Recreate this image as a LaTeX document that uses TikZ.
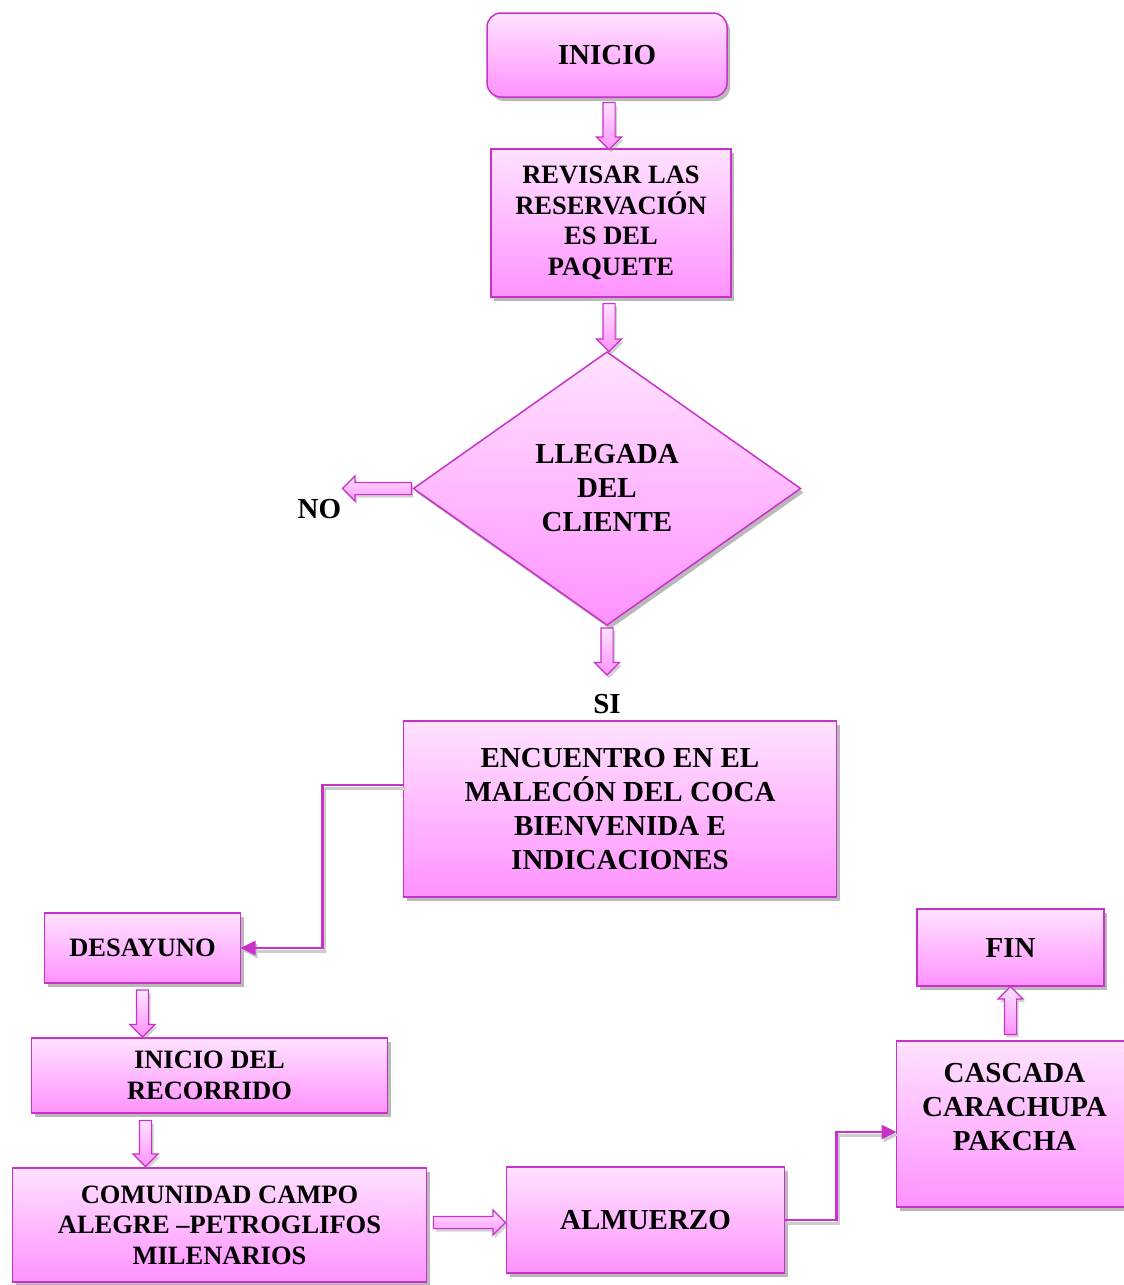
\documentclass[tikz,border=0pt]{standalone}
\usepackage{fontspec}
\setmainfont{Liberation Serif}
\usetikzlibrary{shapes.geometric, shapes.arrows, positioning, calc, shadows, arrows.meta}

\definecolor{boxtop}{RGB}{255,226,255}
\definecolor{boxbot}{RGB}{255,146,255}
\definecolor{boxline}{RGB}{200,50,200}

\tikzset{
	pinkbox/.style={draw=boxline, line width=1.5pt, top color=boxtop, bottom color=boxbot,
		drop shadow={shadow xshift=3pt, shadow yshift=-4pt, fill=black!50, opacity=0.55},
		align=center, inner sep=0pt, outer sep=0pt, font=\bfseries\fontsize{29}{34}\selectfont},
	smalltext/.style={font=\bfseries\fontsize{26.5}{30.5}\selectfont},
	blockarrow/.style={single arrow, draw=boxline, line width=1.2pt, top color=boxtop, bottom color=boxbot,
		inner xsep=0pt, inner ysep=5.5pt, single arrow head extend=6.5pt, outer sep=0pt,
		drop shadow={shadow xshift=2pt, shadow yshift=-3pt, fill=black!45, opacity=0.4}},
	link/.style={draw=boxline, line width=2.6pt, -{Triangle[length=15pt,width=14pt]},
		preaction={draw=black!20, line width=3pt, transform canvas={xshift=2pt, yshift=-3pt}}},
	answer/.style={font=\bfseries\fontsize{29}{34}\selectfont}
}

\begin{document}
\begin{tikzpicture} [
						x=1pt, y=-1pt,
						node distance=55pt
					]
\useasboundingbox (0,0) rectangle (1124,1285);

\node (inicio) [pinkbox, rounded corners=14pt, minimum width=240pt, minimum height=84pt] at (607,55) {INICIO};
\node (revisar) [pinkbox, smalltext, minimum width=240pt, minimum height=148pt, below=52pt of inicio, xshift=4pt] {REVISAR LAS\\RESERVACIÓN\\ES DEL\\PAQUETE};
\node (llegada) [pinkbox, diamond, minimum width=387pt, minimum height=273pt, below=of revisar, xshift=-4pt] {LLEGADA\\DEL\\CLIENTE};
\node (encuentro) [pinkbox, minimum width=433pt, minimum height=176pt, below=96pt of llegada, xshift=13pt] {ENCUENTRO EN EL\\MALECÓN DEL COCA\\BIENVENIDA E\\INDICACIONES};
\node (desayuno) [pinkbox, smalltext, minimum width=196pt, minimum height=70pt, below left=16pt and 163pt of encuentro] {DESAYUNO};
\node (recorrido) [pinkbox, smalltext, minimum width=356pt, minimum height=75pt, below=of desayuno, xshift=67pt] {INICIO DEL\\RECORRIDO};
\node (comunidad) [pinkbox, smalltext, minimum width=414pt, minimum height=114pt, below=of recorrido, xshift=10pt] {COMUNIDAD CAMPO\\ALEGRE –PETROGLIFOS\\MILENARIOS};
\node (almuerzo) [pinkbox, minimum width=278pt, minimum height=106pt, right=80pt of comunidad, yshift=5pt] {ALMUERZO};
\node (cascada) [pinkbox, minimum width=236pt, minimum height=166pt, right=112pt of almuerzo, yshift=96pt] {CASCADA\\CARACHUPA\\PAKCHA\\~};
\node (fin) [pinkbox, minimum width=187pt, minimum height=77pt, above=of cascada, xshift=-4pt] {FIN};

% block arrows
\node (a1) [blockarrow, rotate=-90, minimum height=47pt] at ($(inicio.south)!0.5!(revisar.north)$) {};
\node (a2) [blockarrow, rotate=-90, minimum height=48pt] at ($(revisar.south)!0.5!(llegada.north)$) {};
\node (ano) [blockarrow, rotate=180, minimum height=69pt, anchor=west] at ([xshift=-2pt]llegada.west) {};
\node (asi) [blockarrow, rotate=-90, minimum height=47pt, anchor=west] at ([yshift=-3pt]llegada.south) {};
\node (a3) [blockarrow, rotate=-90, minimum height=47pt] at ($(desayuno.south)!0.5!(desayuno.south |- recorrido.north)$) {};
\node (a4) [blockarrow, rotate=-90, minimum height=46pt] at ($([xshift=3pt]desayuno.south |- recorrido.south)!0.5!([xshift=3pt]desayuno.south |- comunidad.north)$) {};
\node (a5) [blockarrow, minimum height=72pt] at ($(comunidad.east)!0.5!(almuerzo.west)$) {};
\node (a6) [blockarrow, rotate=90, minimum height=48pt] at ($(fin.south)!0.5!(fin.south |- cascada.north)$) {};

\node (no) [answer] at ([xshift=-23pt, yshift=-21pt]ano.east) {NO};
\node (si) [answer] at ([yshift=-29pt]asi.east) {SI};

\draw[link] ([yshift=24pt]encuentro.west) -- ++(-81,0) |- (desayuno.east);
\draw[link] (almuerzo.east) -- ++(52,0) |- ([yshift=-8pt]cascada.west);
\end{tikzpicture}
\end{document}
